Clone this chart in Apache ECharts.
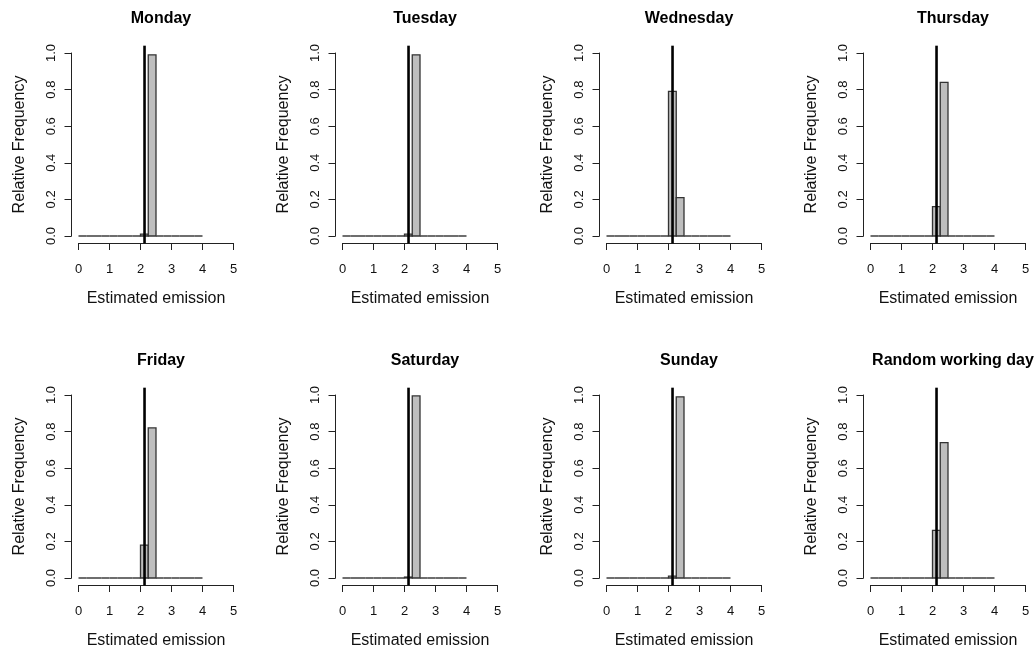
<!DOCTYPE html>
<html>
<head>
<meta charset="utf-8">
<script src="https://cdn.jsdelivr.net/npm/echarts@6/dist/echarts.min.js"></script>
<style>
  html, body { margin: 0; padding: 0; background: #fff; }
  #chart { width: 1034px; height: 650px; }
</style>
</head>
<body>
<div id="chart"></div>
<script>
// Panel titles, in reading order (two rows of four)
const panelTitles = ['Monday', 'Tuesday', 'Wednesday', 'Thursday',
                     'Friday', 'Saturday', 'Sunday', 'Random working day'];

// Histogram breaks: 0 to 4 in steps of 0.25
const binBreaks = [0, 0.25, 0.5, 0.75, 1, 1.25, 1.5, 1.75, 2, 2.25, 2.5,
                   2.75, 3, 3.25, 3.5, 3.75, 4];

// Relative frequency of the two occupied bins [2, 2.25) and [2.25, 2.5)
const freqMonday    = [0.01, 0.99];
const freqTuesday   = [0.01, 0.99];
const freqWednesday = [0.79, 0.21];
const freqThursday  = [0.16, 0.84];
const freqFriday    = [0.18, 0.82];
const freqSaturday  = [0.005, 0.995];
const freqSunday    = [0.01, 0.99];
const freqRandom    = [0.26, 0.74];
const occupiedFirstBin = 8; // index of break 2.0

// Reference value marked by the vertical line
const trueEmission = 2.13;

const xTicks = [0, 1, 2, 3, 4, 5];
const yTicks = [0, 0.2, 0.4, 0.6, 0.8, 1.0];

const panelFreqs = [freqMonday, freqTuesday, freqWednesday, freqThursday,
                    freqFriday, freqSaturday, freqSunday, freqRandom];

function binsFor(freqs) {
  const out = [];
  for (let i = 0; i < binBreaks.length - 1; i++) {
    let v = 0;
    const k = i - occupiedFirstBin;
    if (k >= 0 && k < freqs.length) v = freqs[k];
    out.push([binBreaks[i], binBreaks[i + 1], v]);
  }
  return out;
}

const FONT = 'Liberation Sans, Arial, sans-serif';
const colStep = 264, rowStep = 342;
const plotLeft0 = 78.5, plotTop0 = 53, plotW = 155, plotH = 183;

const grids = [], xAxes = [], yAxes = [], series = [], titles = [];

panelFreqs.forEach((freqs, idx) => {
  const c = idx % 4, r = Math.floor(idx / 4);
  const left = plotLeft0 + colStep * c;
  const top = plotTop0 + rowStep * r;
  grids.push({ left: left, top: top, width: plotW, height: plotH, containLabel: false });

  titles.push({
    text: panelTitles[idx],
    left: left + plotW / 2,
    top: top - 47,
    textAlign: 'center',
    textStyle: { fontFamily: FONT, fontSize: 16, fontWeight: 'bold', color: '#000' }
  });

  xAxes.push({
    gridIndex: idx, type: 'value', min: 0, max: 5, interval: 1,
    offset: 7,
    name: 'Estimated emission', nameLocation: 'middle', nameGap: 48,
    nameTextStyle: { fontFamily: FONT, fontSize: 16, color: '#111' },
    axisLine: { show: true, onZero: false, lineStyle: { color: '#222', width: 1 } },
    axisTick: { show: true, length: 7, lineStyle: { color: '#222', width: 1 } },
    axisLabel: { fontFamily: FONT, fontSize: 13, color: '#111', margin: 20,
                 formatter: v => xTicks.includes(v) ? String(v) : '' },
    splitLine: { show: false }
  });

  yAxes.push({
    gridIndex: idx, type: 'value', min: 0, max: 1, interval: 0.2,
    offset: 7,
    name: 'Relative Frequency', nameLocation: 'middle', nameGap: 44,
    nameTextStyle: { fontFamily: FONT, fontSize: 16, color: '#111' },
    axisLine: { show: true, onZero: false, lineStyle: { color: '#222', width: 1 } },
    axisTick: { show: true, length: 7, lineStyle: { color: '#222', width: 1 } },
    axisLabel: { fontFamily: FONT, fontSize: 13, color: '#111', margin: 14, rotate: 90,
                 formatter: v => yTicks.some(t => Math.abs(t - v) < 1e-9) ? v.toFixed(1) : '' },
    splitLine: { show: false }
  });

  // histogram bins
  series.push({
    type: 'custom',
    xAxisIndex: idx, yAxisIndex: idx,
    data: binsFor(freqs),
    clip: false,
    renderItem: function (params, api) {
      const x0 = api.value(0), x1 = api.value(1), v = api.value(2);
      const p0 = api.coord([x0, v]);
      const p1 = api.coord([x1, 0]);
      if (v === 0) {
        return {
          type: 'line',
          shape: { x1: p0[0], y1: p1[1], x2: p1[0], y2: p1[1] },
          style: { stroke: '#4a4a4a', lineWidth: 1.6 }
        };
      }
      return {
        type: 'rect',
        shape: { x: p0[0], y: p0[1], width: p1[0] - p0[0], height: p1[1] - p0[1] },
        style: { fill: '#bebebe', stroke: '#333', lineWidth: 1.3 }
      };
    },
    silent: true,
    z: 2
  });

  // vertical reference line across the whole plot region
  series.push({
    type: 'line',
    xAxisIndex: idx, yAxisIndex: idx,
    data: [[trueEmission, -0.04], [trueEmission, 1.04]],
    clip: false,
    symbol: 'none',
    lineStyle: { color: '#000', width: 2.6 },
    silent: true,
    z: 3
  });
});

const chart = echarts.init(document.getElementById('chart'), null, { renderer: 'canvas' });
chart.setOption({
  animation: false,
  backgroundColor: '#fff',
  title: titles,
  grid: grids,
  xAxis: xAxes,
  yAxis: yAxes,
  series: series
});
</script>
</body>
</html>
